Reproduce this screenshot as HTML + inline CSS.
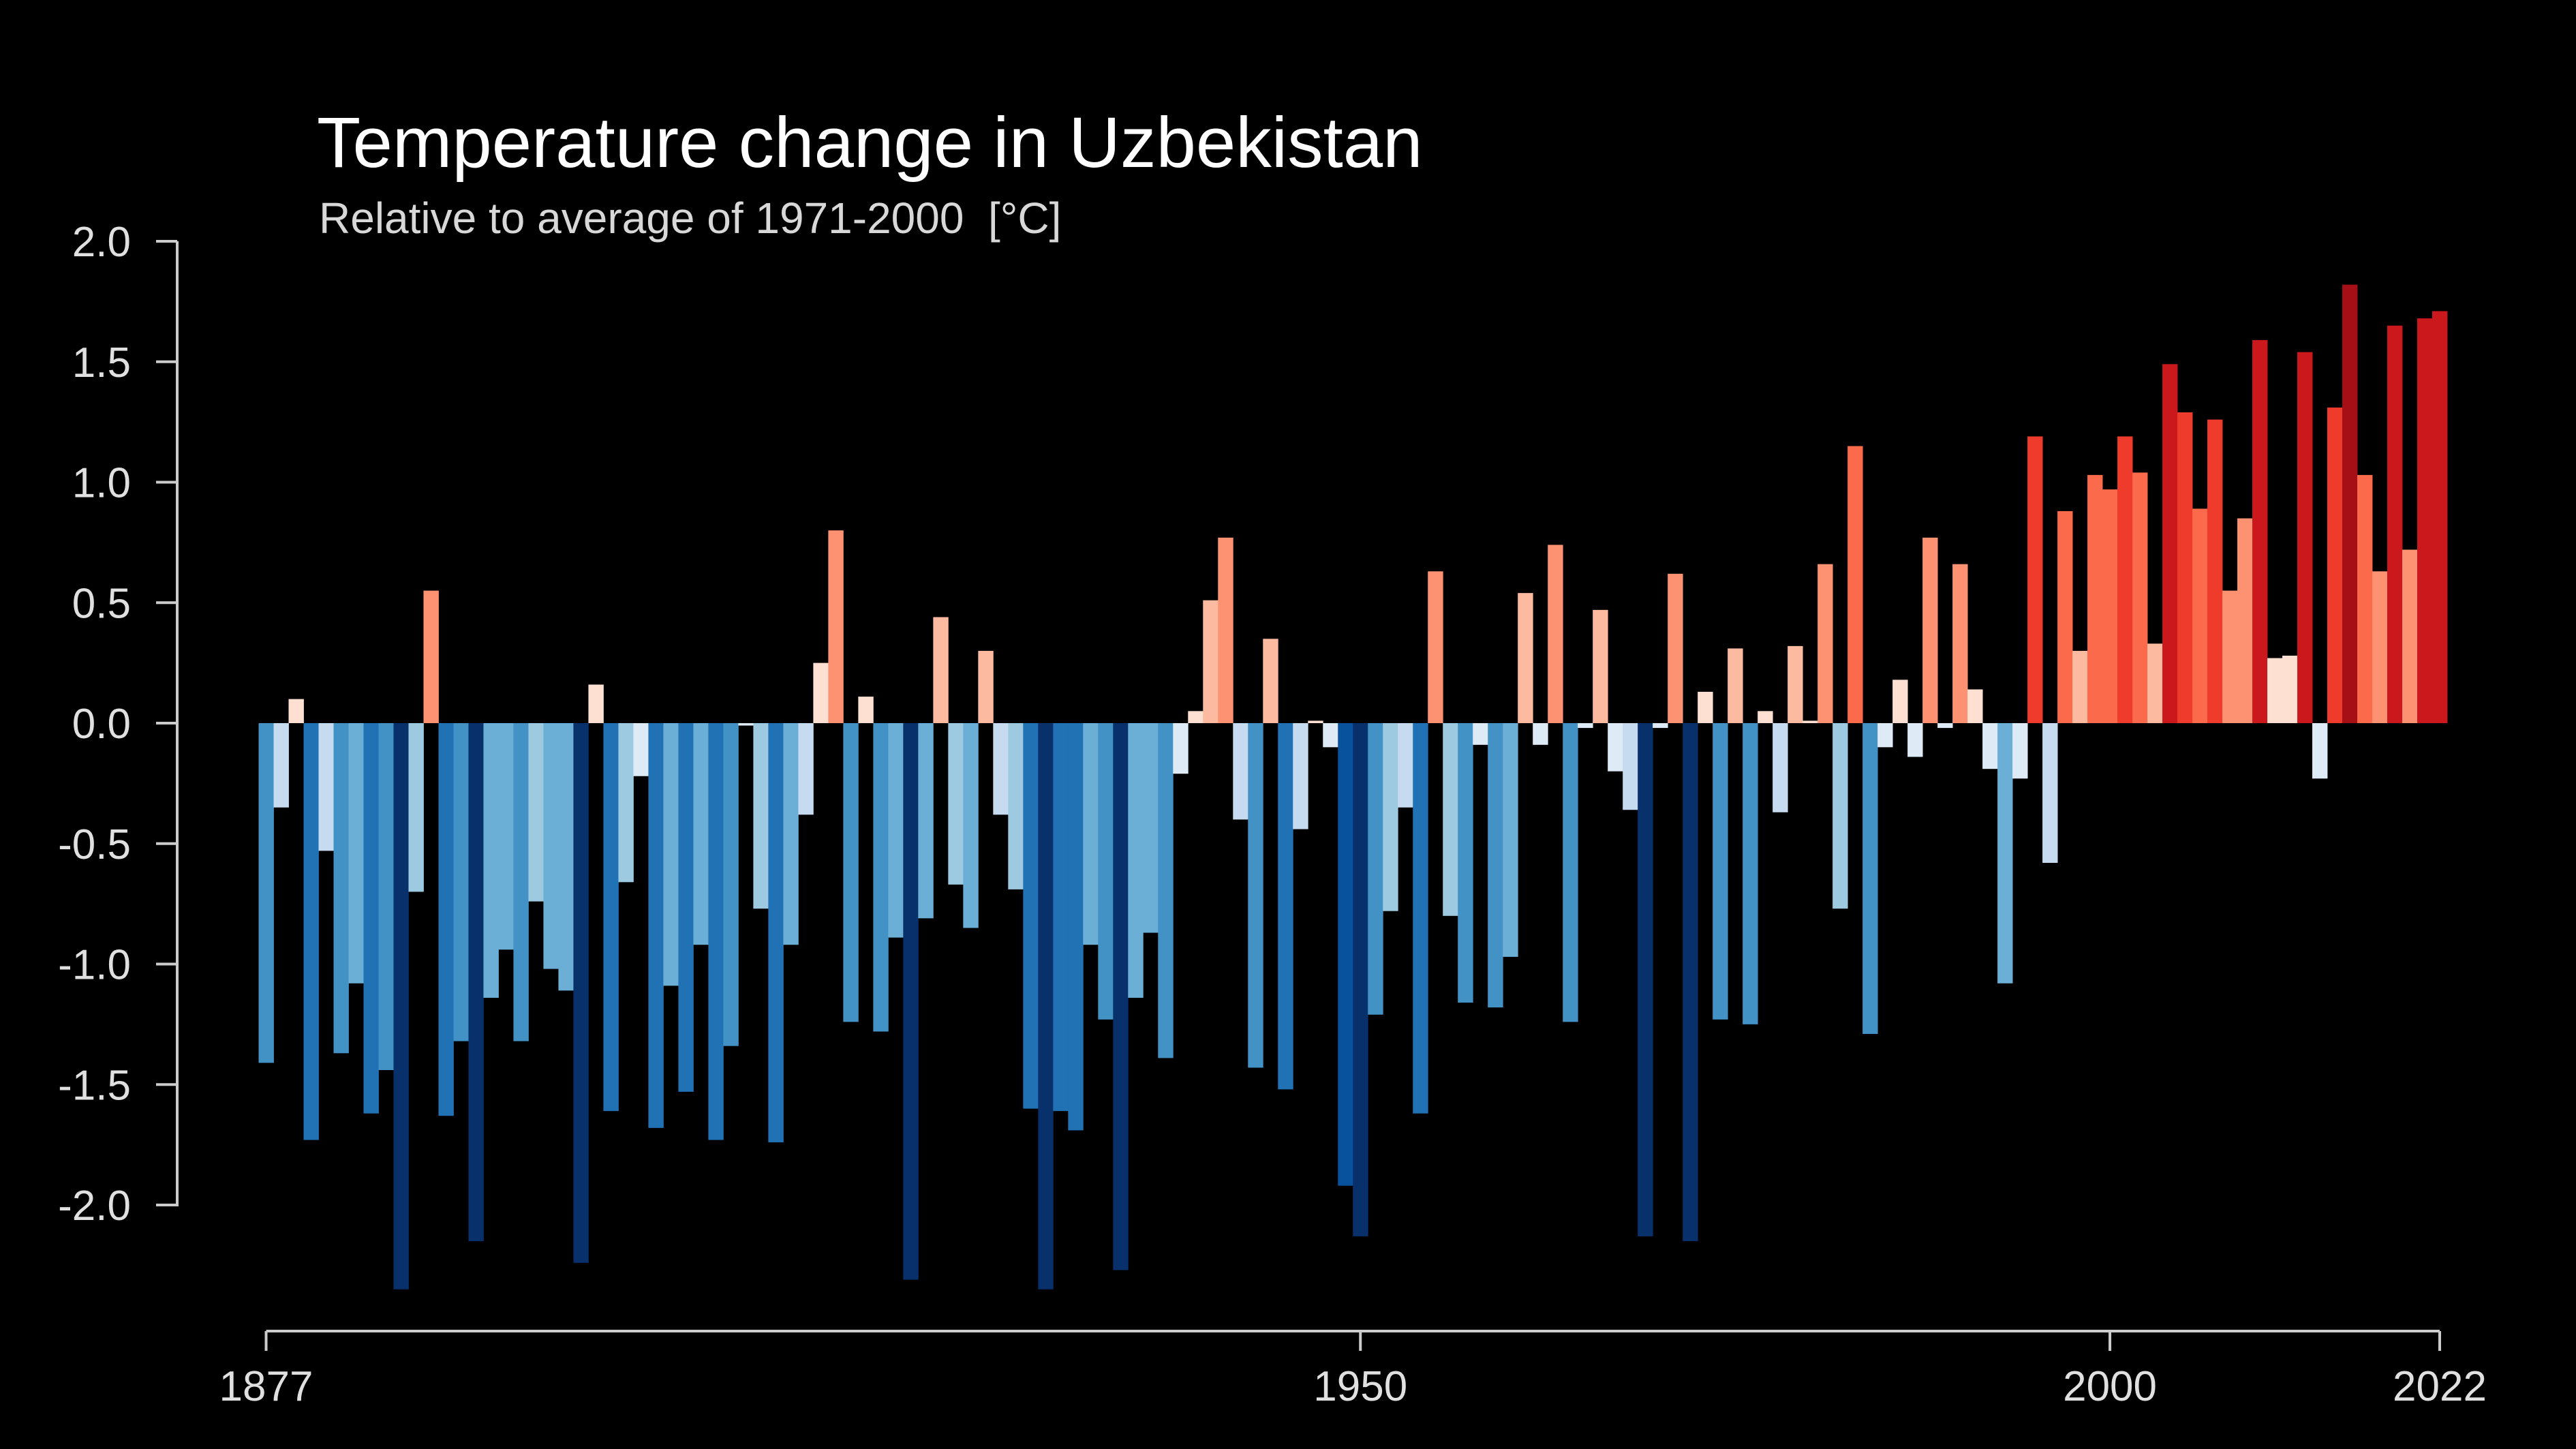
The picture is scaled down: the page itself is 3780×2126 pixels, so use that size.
<!DOCTYPE html>
<html><head><meta charset="utf-8"><style>
html,body{margin:0;padding:0;background:#000;}
svg{display:block;}
text{font-family:"Liberation Sans",sans-serif;}
</style></head><body>
<svg id="chart" width="3780" height="2126" viewBox="0 0 3780 2126" xmlns="http://www.w3.org/2000/svg">
<rect width="3780" height="2126" fill="#000"/>
<text x="465" y="245" font-size="105" fill="#fff">Temperature change in Uzbekistan</text>
<text x="468" y="342" font-size="64" fill="#d8d8d8">Relative to average of 1971-2000&#160; [°C]</text>
<g id="yaxis"></g>
<g id="xaxis"></g>
<g id="bars"></g>
</svg>
<script>
const startYear = 1877;
const anomalies = [
-1.41,-0.35,0.10,-1.73,-0.53,-1.37,-1.08,-1.62,-1.44,-2.35,
-0.70,0.55,-1.63,-1.32,-2.15,-1.14,-0.94,-1.32,-0.74,-1.02,
-1.11,-2.24,0.16,-1.61,-0.66,-0.22,-1.68,-1.09,-1.53,-0.92,
-1.73,-1.34,-0.01,-0.77,-1.74,-0.92,-0.38,0.25,0.80,-1.24,
0.11,-1.28,-0.89,-2.31,-0.81,0.44,-0.67,-0.85,0.30,-0.38,
-0.69,-1.60,-2.35,-1.61,-1.69,-0.92,-1.23,-2.27,-1.14,-0.87,
-1.39,-0.21,0.05,0.51,0.77,-0.40,-1.43,0.35,-1.52,-0.44,
0.01,-0.10,-1.92,-2.13,-1.21,-0.78,-0.35,-1.62,0.63,-0.80,
-1.16,-0.09,-1.18,-0.97,0.54,-0.09,0.74,-1.24,-0.02,0.47,
-0.20,-0.36,-2.13,-0.02,0.62,-2.15,0.13,-1.23,0.31,-1.25,
0.05,-0.37,0.32,0.01,0.66,-0.77,1.15,-1.29,-0.10,0.18,
-0.14,0.77,-0.02,0.66,0.14,-0.19,-1.08,-0.23,1.19,-0.58,
0.88,0.30,1.03,0.97,1.19,1.04,0.33,1.49,1.29,0.89,
1.26,0.55,0.85,1.59,0.27,0.28,1.54,-0.23,1.31,1.82,
1.03,0.63,1.65,0.72,1.68,1.71];
const yTicks = [2.0,1.5,1.0,0.5,0.0,-0.5,-1.0,-1.5,-2.0];
const yTickLabels = ["2.0","1.5","1.0","0.5","0.0","-0.5","-1.0","-1.5","-2.0"];
const xTicks = [1877,1950,2000,2022];

const NS="http://www.w3.org/2000/svg";
const y0px=1061, unit=353.5;
const x0px=390.5, x1px=3580, y1=2022;
function yScale(v){return y0px - v*unit;}
function xScale(yr){return x0px + (yr-startYear)*(x1px-x0px)/(y1-startYear);}
const step=(x1px-x0px)/(y1-startYear);
function color(v){
 if(v<-2.0) return "#08306b";
 if(v<-1.8) return "#08519c";
 if(v<-1.5) return "#2171b5";
 if(v<-1.15) return "#4292c6";
 if(v<-0.8) return "#6baed6";
 if(v<-0.6) return "#9ecae1";
 if(v<-0.3) return "#c6dbef";
 if(v<0) return "#deebf7";
 if(v<0.29) return "#fee0d2";
 if(v<0.55) return "#fcbba1";
 if(v<0.86) return "#fc9272";
 if(v<1.16) return "#fb6a4a";
 if(v<1.45) return "#ef3b2c";
 if(v<1.75) return "#cb181d";
 return "#a50f15";
}
function mk(tag,attrs,parent){const e=document.createElementNS(NS,tag);for(const k in attrs)e.setAttribute(k,attrs[k]);parent.appendChild(e);return e;}
const bars=document.getElementById('bars');
anomalies.forEach((v,i)=>{
 const yr=startYear+i;
 const cx=xScale(yr);
 const top=Math.min(yScale(v),yScale(0));
 const h=Math.max(Math.abs(yScale(v)-yScale(0)),1);
 const r=mk('rect',{x:(cx-step/2).toFixed(2),y:top.toFixed(2),width:(step+0.4).toFixed(2),height:h.toFixed(2),fill:color(v)},bars);
 
 
});
const ya=document.getElementById('yaxis');
const yl=mk('line',{x1:260,y1:yScale(2.0),x2:260,y2:1770,stroke:"#ccc","stroke-width":4},ya);


yTicks.forEach((t,i)=>{
 const tl=mk('line',{x1:229,y1:yScale(t),x2:260,y2:yScale(t),stroke:"#ccc","stroke-width":4},ya);
 
 
 const tx=mk('text',{x:192,y:yScale(t)+22,"font-size":62,fill:"#e0e0e0","text-anchor":"end"},ya);
 tx.textContent=yTickLabels[i];
 
 
});
const xa=document.getElementById('xaxis');
const xl=mk('line',{x1:xScale(1877),y1:1953,x2:xScale(2022),y2:1953,stroke:"#ccc","stroke-width":4},xa);


xTicks.forEach(t=>{
 const tl=mk('line',{x1:xScale(t),y1:1953,x2:xScale(t),y2:1982,stroke:"#ccc","stroke-width":4},xa);
 
 
 const tx=mk('text',{x:xScale(t),y:2055,"font-size":62,fill:"#e0e0e0","text-anchor":"middle"},xa);
 tx.textContent=String(t);
 
 
});
</script>
</body></html>
